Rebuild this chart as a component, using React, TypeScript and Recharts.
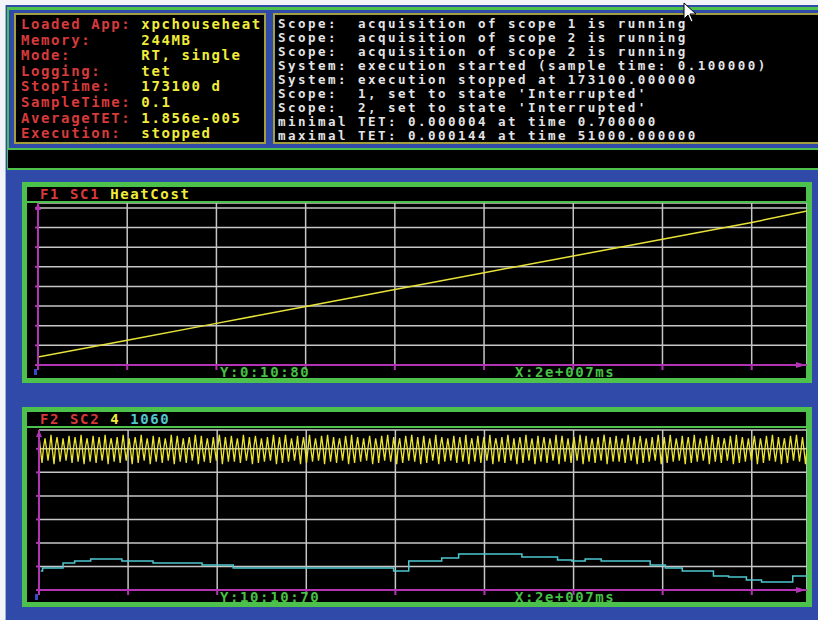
import React from 'react';
import { LineChart, Line, XAxis, YAxis, CartesianGrid } from 'recharts';

// ---------- data ----------
const infoLabels = ['Loaded App:', 'Memory:', 'Mode:', 'Logging:', 'StopTime:', 'SampleTime:', 'AverageTET:', 'Execution:'];
const infoValues = ['xpchouseheat', '244MB', 'RT, single', 'tet', '173100 d', '0.1', '1.856e-005', 'stopped'];
const logLines = [
  'Scope:  acquisition of scope 1 is running',
  'Scope:  acquisition of scope 2 is running',
  'Scope:  acquisition of scope 2 is running',
  'System: execution started (sample time: 0.100000)',
  'System: execution stopped at 173100.000000',
  "Scope:  1, set to state 'Interrupted'",
  "Scope:  2, set to state 'Interrupted'",
  'minimal TET: 0.000004 at time 0.700000',
  'maximal TET: 0.000144 at time 51000.000000',
];

const X_MAX = 8.62;
const xTicks = [0, 1, 2, 3, 4, 5, 6, 7, 8];

// Scope 1: HeatCost
const sc1YTicks = [0, 10, 20, 30, 40, 50, 60, 70, 80];
const heatTime = [0, 1, 2, 3, 4, 5, 6, 7, 8, 8.62];
const heatCost = [4.1, 12.6, 21.2, 29.8, 38.4, 47.0, 55.5, 64.0, 72.6, 78.4];

// Scope 2: temperature (cyan step) and oscillating signal (yellow)
const sc2YTicks = [10, 20, 30, 40, 50, 60, 70];
const tempTime = [0.02, 0.04, 0.27, 0.40, 0.58, 0.93, 1.28, 1.83, 2.18, 3.98, 4.15, 4.52, 4.71, 5.42, 5.82, 5.98, 6.13, 6.31, 6.86, 7.03, 7.22, 7.57, 7.74, 7.94, 8.11, 8.46, 8.62];
const tempValue = [18.1, 19.4, 21.5, 22.3, 23.2, 22.3, 21.5, 20.6, 19.4, 18.1, 22.3, 23.6, 25.3, 24.0, 22.8, 22.3, 23.2, 22.3, 20.6, 19.4, 18.1, 16.0, 15.5, 14.3, 13.4, 16.0, 16.0];

const signalValues = [
  75.5,69.5,64,70.5, 74.5,70,65,70, 76,69,63.5,71, 75,70.5,64.5,69.5, 74.5,70,65,70, 75.5,69.5,64,70.5, 75,70.5,64.5,69.5, 76,69,63.5,71,
  74.5,70,64.5,70, 75.5,69.5,64,70.5, 75,70,65,69.5, 76,69.5,63.5,71, 74.5,70.5,64.5,70, 75,69.5,64,70.5, 76,70,65,69.5, 74.5,69,63.5,71,
  75,70.5,64,70, 76,69.5,65,70.5, 74.5,70,63.5,69.5, 75.5,69,64.5,71, 75,70,64,70, 74.5,70.5,65,69.5, 76,69.5,63.5,70.5, 75.5,70,64.5,70,
  74.5,69.5,64,71, 75,70,65,70, 76,70.5,63.5,69.5, 75.5,69,64.5,70.5, 74.5,70,64,70, 75,69.5,65,71, 76,70.5,63.5,69.5, 75,70,64.5,70,
  75.5,70,64.5,70.5, 74.5,69.5,64,70, 76,70,65,69.5, 75,69,63.5,71, 75.5,70.5,64,70, 74.5,70,64.5,69.5, 75,69.5,65,70.5, 76,70,63.5,70,
  75,69.5,64,70.5, 76,70,64.5,70, 74.5,70.5,65,69.5, 75.5,69,63.5,71, 75,70,64,70, 76,69.5,64.5,70.5, 74.5,70,65,69.5, 75.5,70.5,63.5,70,
  76,70,64.5,70, 75,69.5,64,71, 74.5,70,65,70, 75.5,70.5,63.5,69.5, 76,69,64,70.5, 75,70,64.5,70, 74.5,69.5,65,71, 75.5,70,63.5,69.5,
  74.5,70.5,64,70, 75.5,70,65,70.5, 76,69.5,64.5,69.5, 75,70,63.5,71, 74.5,69,64,70, 75.5,70.5,65,70.5, 76,70,64.5,69.5, 75,69.5,63.5,70,
  75.5,69.5,64,70.5, 74.5,70,65,70, 76,69,63.5,71, 75,70.5,64.5,69.5, 74.5,70,65,70, 75.5,69.5,64,70.5, 75,70.5,64.5,69.5, 76,69,63.5,71,
  74.5,70,64.5,70, 75.5,69.5,64,70.5, 75,70,65,69.5, 76,69.5,63.5,71, 74.5,70.5,64.5,70, 75,69.5,64,70.5, 76,70,65,69.5, 74.5,69,63.5,71,
  75,70.5,64,70, 76,69.5,65,70.5, 74.5,70,63.5,69.5, 75.5,69,64.5,71, 75,70,64,70, 74.5,70.5,65,69.5, 76,69.5,63.5,70.5, 75.5,70,64.5,70,
  74.5,69.5,64,71, 75,70,65,70, 76,70.5,63.5,69.5, 75.5,69,64.5,70.5, 74.5,70,64,70, 75,69.5,65,71, 76,70.5,63.5,69.5, 75,70,64.5,70,
  75.5,70,64.5,70.5, 74.5,69.5,64,70, 76,70,65,69.5, 75,69,63.5,71, 75.5,70.5,64,70, 74.5,70,64.5,69.5, 75,69.5,65,70.5, 76,70,63.5,70,
  75,69.5,64,70.5, 76,70,64.5,70, 74.5,70.5,65,69.5, 75.5,69,63.5,71, 75,70,64,70, 76,69.5,64.5,70.5, 74.5,70,65,69.5, 75.5,70.5,63.5,70,
  76,70,64.5,70, 75,69.5,64,71, 74.5,70,65,70, 75.5,70.5,63.5,69.5, 76,69,64,70.5, 75,70,64.5,70, 74.5,69.5,65,71, 75.5,70,63.5,69.5,
  74.5,70.5,64,70, 75.5,70,65,70.5, 76,69.5,64.5,69.5, 75,70,63.5,71, 74.5,69,64,70, 75.5,70.5,65,70.5, 76,70,64.5,69.5, 75,69.5,63.5,70,
];

// ---------- style ----------
const BLUE = '#2f4aa8';
const GREEN = '#4cc24c';
const OLIVE = '#a39e3e';
const PURPLE = '#b234b4';
const GRID = '#c6c6c6';
const RED = '#d83a3a';
const YELLOW = '#f0ec3a';
const CYAN = '#4ec8cf';
const LABEL_GREEN = '#45c145';

const mono: React.CSSProperties = {
  fontFamily: '"DejaVu Sans Mono", "Liberation Mono", monospace',
  fontWeight: 'bold',
  fontSize: 14,
  letterSpacing: '1.6px',
  whiteSpace: 'pre',
};

const logFont: React.CSSProperties = {
  ...mono,
  fontSize: 12.5,
  letterSpacing: '2.47px',
};

const abs = (left: number, top: number, width: number, height: number, extra: React.CSSProperties = {}): React.CSSProperties => ({
  position: 'absolute', left, top, width, height, ...extra,
});

const heatData = heatTime.map((t, i) => ({ t, v: heatCost[i] }));
const tempData = tempTime.map((t, i) => ({ t, v: tempValue[i] }));
const WAVE_DT = X_MAX / (signalValues.length - 1);
const signalData = signalValues.map((v, i) => ({ t: i * WAVE_DT, v }));

const NoTick = () => <g />;

type ScopeProps = {
  top: number;
  height: number;
  chartHeight: number;
  marginTop: number;
  xAxisHeight: number;
  yAxisWidth: number;
  yDomain: [number, number];
  yTicks: number[];
  title: React.ReactNode;
  yLabel: string;
  children: React.ReactNode;
};

function Scope({ top, height, chartHeight, marginTop, xAxisHeight, yAxisWidth, yDomain, yTicks, title, yLabel, children }: ScopeProps) {
  const plotLeft = yAxisWidth;
  const plotTop = marginTop;
  const plotBottom = chartHeight - xAxisHeight;
  const plotRight = 779;
  return (
    <div style={abs(22, top, 790, height, { background: GREEN })}>
      <div style={abs(5, 5, 779, 14, { background: '#000' })}>
        <div style={{ ...mono, position: 'absolute', left: 13, top: -2, lineHeight: '18px' }}>{title}</div>
      </div>
      <div style={abs(5, 21, 779, chartHeight, { background: '#000' })}>
        <LineChart width={780} height={chartHeight} margin={{ top: marginTop, right: 0, bottom: 0, left: 0 }}>
          <CartesianGrid stroke={GRID} strokeWidth={1.5} fill="none" />
          <XAxis
            dataKey="t"
            type="number"
            domain={[0, X_MAX]}
            ticks={xTicks}
            interval={0}
            allowDataOverflow
            height={xAxisHeight}
            tick={NoTick}
            tickLine={{ stroke: PURPLE, strokeWidth: 2 }}
            tickSize={5}
            axisLine={{ stroke: PURPLE, strokeWidth: 2 }}
          />
          <YAxis
            type="number"
            domain={yDomain}
            ticks={yTicks}
            interval={0}
            allowDataOverflow
            width={yAxisWidth}
            tick={NoTick}
            tickLine={{ stroke: PURPLE, strokeWidth: 2 }}
            tickSize={3}
            axisLine={{ stroke: PURPLE, strokeWidth: 2 }}
          />
          {children}
        </LineChart>
        <svg width={780} height={chartHeight} style={{ position: 'absolute', left: 0, top: 0, pointerEvents: 'none' }}>
          <polygon points={`${plotLeft - 3},${plotTop + 7} ${plotLeft},${plotTop} ${plotLeft + 3},${plotTop + 7}`} fill={PURPLE} />
          <polygon points={`${plotRight - 10},${plotBottom - 3} ${plotRight},${plotBottom} ${plotRight - 10},${plotBottom + 3}`} fill={PURPLE} />
          <rect x={plotLeft - 4} y={plotBottom + 4} width={3} height={6} fill="#3a48c8" />
        </svg>
        <div style={{ ...mono, color: LABEL_GREEN, position: 'absolute', left: 193, top: plotBottom + 1, lineHeight: '12px' }}>{yLabel}</div>
        <div style={{ ...mono, color: LABEL_GREEN, position: 'absolute', left: 488, top: plotBottom + 1, lineHeight: '12px' }}>X:2e+007ms</div>
      </div>
    </div>
  );
}

export default function App() {
  return (
    <div style={{ position: 'fixed', left: 0, top: 0, width: 818, height: 620, background: BLUE, overflow: 'hidden' }}>
      {/* outer window edges */}
      <div style={abs(0, 0, 818, 5, { background: '#f2f4f8' })} />
      <div style={abs(0, 0, 5, 620, { background: '#f2f4f8' })} />
      <div style={abs(5, 5, 1, 615, { background: '#9fb0d8' })} />
      <div style={abs(7, 7, 811, 3, { background: GREEN })} />
      <div style={abs(7, 7, 2, 163, { background: GREEN })} />

      {/* target info box */}
      <div style={abs(14, 13, 252, 131, { background: '#000', border: `2px solid ${OLIVE}`, boxSizing: 'border-box' })}>
        {infoLabels.map((lab, i) => (
          <div key={lab} style={{ ...mono, position: 'absolute', left: 5, top: 2 + i * 15.6, lineHeight: '15px' }}>
            <span style={{ color: RED }}>{lab.padEnd(12, ' ')}</span>
            <span style={{ color: YELLOW }}>{infoValues[i]}</span>
          </div>
        ))}
      </div>

      {/* message log box */}
      <div style={abs(273, 13, 545, 131, { background: '#000', border: `2px solid ${OLIVE}`, borderRight: 'none', boxSizing: 'border-box' })}>
        {logLines.map((line, i) => (
          <div key={i} style={{ ...logFont, color: '#e4e4e4', position: 'absolute', left: 3, top: 2 + i * 14, lineHeight: '13px' }}>{line}</div>
        ))}
      </div>

      {/* command bar */}
      <div style={abs(7, 148, 811, 2, { background: GREEN })} />
      <div style={abs(8, 150, 810, 18, { background: '#000' })} />
      <div style={abs(7, 168, 811, 2, { background: GREEN })} />

      {/* Scope 1 */}
      <Scope
        top={182}
        height={201}
        chartHeight={175}
        marginTop={0}
        xAxisHeight={13}
        yAxisWidth={11}
        yDomain={[0, 82.5]}
        yTicks={sc1YTicks}
        yLabel="Y:0:10:80"
        title={<><span style={{ color: RED }}>F1 SC1 </span><span style={{ color: YELLOW }}>HeatCost</span></>}
      >
        <Line data={heatData} dataKey="v" type="linear" stroke="#e6e23a" strokeWidth={1.5} dot={false} isAnimationActive={false} />
      </Scope>

      {/* Scope 2 */}
      <Scope
        top={407}
        height={200}
        chartHeight={174}
        marginTop={2}
        xAxisHeight={12}
        yAxisWidth={12}
        yDomain={[10, 78]}
        yTicks={sc2YTicks}
        yLabel="Y:10:10:70"
        title={<><span style={{ color: RED }}>F2 SC2 </span><span style={{ color: YELLOW }}>4 </span><span style={{ color: CYAN }}>1060</span></>}
      >
        <Line data={signalData} dataKey="v" type="linear" stroke="#ece630" strokeWidth={1.3} dot={false} isAnimationActive={false} />
        <Line data={tempData} dataKey="v" type="stepAfter" stroke={CYAN} strokeWidth={1.5} dot={false} isAnimationActive={false} />
      </Scope>

      {/* mouse cursor */}
      <svg width={20} height={26} style={{ position: 'absolute', left: 682, top: 2 }}>
        <polygon points="2,1 2,17 6,13 9,20 11,19 8,12 14,12" fill="#ffffff" stroke="#000" strokeWidth={1} />
      </svg>
    </div>
  );
}
